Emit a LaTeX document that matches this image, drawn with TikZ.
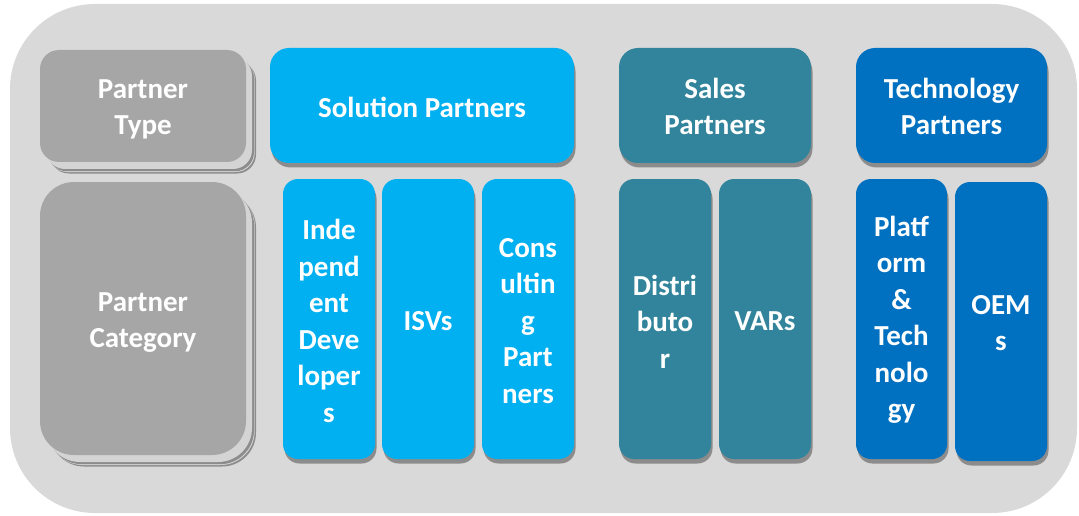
\documentclass[tikz,border=0pt]{standalone}
\usepackage{fontspec}
\setmainfont{Carlito}
\usetikzlibrary{shadows}
\definecolor{bgc}{HTML}{D9D9D9}
\definecolor{grayc}{HTML}{A6A6A6}
\definecolor{solc}{HTML}{00B0F0}
\definecolor{salc}{HTML}{31849B}
\definecolor{tecc}{HTML}{0070C0}
\definecolor{shd}{HTML}{8C8C8C}
\definecolor{shl}{HTML}{D4D4D4}
\tikzset{
  box/.style={rectangle, inner sep=0pt},
  txt/.style={inner sep=0pt, text=white, align=center,
    font=\fontsize{29}{36.5}\selectfont\bfseries},
  colshadow/.style={general shadow={fill=shd, shadow xshift=1.5pt, shadow yshift=-4.5pt}},
  grayshadow/.style={
    general shadow={fill=shd, shadow xshift=10pt, shadow yshift=-11.5pt},
    general shadow={fill=shl, shadow xshift=8.7pt, shadow yshift=-10pt},
    general shadow={fill=shd, shadow xshift=8pt, shadow yshift=-9.2pt},
    general shadow={fill=shl, shadow xshift=6pt, shadow yshift=-7pt}},
  graybox/.style={box, fill=grayc, grayshadow},
  hdr/.style={box, colshadow, minimum height=115pt, rounded corners=19pt},
  sub/.style={box, colshadow, minimum width=92pt, minimum height=280pt, rounded corners=15pt},
}
\begin{document}
\begin{tikzpicture}[x=1pt,y=-1pt]
\useasboundingbox (0,0) rectangle (1079,516);
\fill[bgc, rounded corners=85pt] (10,4) rectangle (1077,513);
% partner type column
\node[graybox, minimum width=206pt, minimum height=112pt, rounded corners=19pt] (ptype) at (143,106) {};
\node[graybox, minimum width=206pt, minimum height=273pt, rounded corners=34pt] (pcat) at (143,318.5) {};
% solution partners
\node[hdr, fill=solc, minimum width=304pt] (sol) at (422,105.5) {};
\node[sub, fill=solc] (indep) at (329,319) {};
\node[sub, fill=solc] (isv) at (428,319) {};
\node[sub, fill=solc] (cons) at (528,319) {};
% sales partners
\node[hdr, fill=salc, minimum width=192pt] (sales) at (715,105.5) {};
\node[sub, fill=salc] (dist) at (665,319) {};
\node[sub, fill=salc] (vars) at (765,319) {};
% technology partners
\node[hdr, fill=tecc, minimum width=191pt] (tech) at (951.5,105.5) {};
\node[sub, fill=tecc, minimum width=91pt] (plat) at (901.5,319) {};
\node[sub, fill=tecc, minimum height=279pt] (oem) at (1001,321.5) {};
% texts
\node[txt] (tptype) at ([yshift=-3.5pt]ptype.center) {Partner\\Type};
\node[txt] (tpcat) at ([yshift=-4pt]pcat.center) {Partner\\Category};
\node[txt] (tsol) at ([yshift=-1.5pt]sol.center) {Solution Partners};
\node[txt] (tindep) at ([yshift=-2pt]indep.center) {Inde\\pend\\ent\\Deve\\loper\\s};
\node[txt] (tisv) at ([yshift=-2pt]isv.center) {ISVs};
\node[txt] (tcons) at ([yshift=-2pt]cons.center) {Cons\\ultin\\g\\Part\\ners};
\node[txt] (tsales) at ([yshift=-1pt]sales.center) {Sales\\Partners};
\node[txt] (tdist) at ([yshift=-2.5pt]dist.center) {Distri\\buto\\r};
\node[txt] (tvars) at ([yshift=-2pt]vars.center) {VARs};
\node[txt] (ttech) at ([yshift=-1pt]tech.center) {Technology\\Partners};
\node[txt] (tplat) at ([yshift=-1pt]plat.center) {Platf\\orm\\\&\\Tech\\nolo\\gy};
\node[txt] (toem) at ([yshift=-1.5pt]oem.center) {OEM\\s};
\end{tikzpicture}
\end{document}
